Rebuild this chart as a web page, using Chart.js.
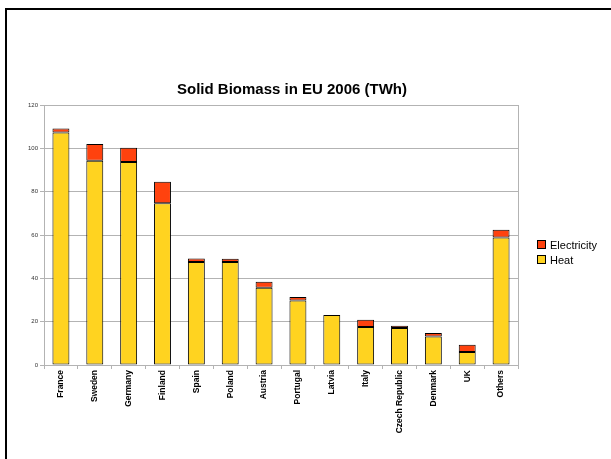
<!DOCTYPE html>
<html>
<head>
<meta charset="utf-8">
<script src="https://cdn.jsdelivr.net/npm/chart.js@4/dist/chart.umd.min.js"></script>
<style>
  body { margin: 0; background: #fff; }
  #wrap { position: relative; width: 611px; height: 459px; overflow: hidden; }
  #frame { position: absolute; left: 5px; top: 8px; width: 700px; height: 600px;
           border-left: 2px solid #000; border-top: 2px solid #000; pointer-events: none; }
</style>
</head>
<body>
<div id="wrap">
  <canvas id="graph" width="611" height="459"></canvas>
  <div id="frame"></div>
</div>
<script>
/* solid biomass use per country, TWh */

var countries = ["France", "Sweden", "Germany", "Finland", "Spain", "Poland", "Austria",
	"Portugal", "Latvia", "Italy", "Czech Republic", "Denmark", "UK", "Others"];

var heat = [107.3, 94.3, 93.7, 74.6, 47.5, 47.5, 35.7, 29.8, 23.1, 17.5, 17.1, 13.1, 6.0, 58.9];
var electricity = [1.9, 7.7, 6.6, 10.0, 1.7, 1.5, 2.7, 1.6, null, 3.4, 1.0, 1.7, 3.4, 3.5];

var yTicks = [0, 20, 40, 60, 80, 100, 120];

var chartTitle = "Solid Biomass in EU 2006 (TWh)";

var gridGrey = "#b3b3b3";

// title, legend and the right edge of the plot box
var extras = {
	id: "extras",
	beforeDatasetsDraw: function(chart) {
		var c = chart.ctx, a = chart.chartArea;
		c.save();
		c.strokeStyle = gridGrey;
		c.lineWidth = 1;
		c.beginPath();
		c.moveTo(Math.round(a.right) + 0.5, a.top);
		c.lineTo(Math.round(a.right) + 0.5, a.bottom);
		c.stroke();
		c.restore();
	},
	afterDraw: function(chart) {
		var c = chart.ctx;
		c.save();
		c.fillStyle = "#000";
		c.font = "bold 15px 'Liberation Sans', Arial, sans-serif";
		c.textAlign = "center";
		c.textBaseline = "alphabetic";
		c.fillText(chartTitle, 292, 94);

		c.font = "11px 'Liberation Sans', Arial, sans-serif";
		c.textAlign = "left";
		var sets = chart.data.datasets.slice().reverse();
		for (var i = 0; i < sets.length; i++) {
			var y = 240 + i * 15;
			c.fillStyle = sets[i].backgroundColor;
			c.fillRect(537, y, 9, 9);
			c.strokeStyle = "#000";
			c.lineWidth = 1;
			c.strokeRect(537.5, y + 0.5, 8, 8);
			c.fillStyle = "#000";
			c.fillText(sets[i].label, 550, y + 9);
		}
		c.restore();
	}
};

var ctx = document.getElementById("graph").getContext("2d");

var chart = new Chart(ctx, {
	type: "bar",
	data: {
		labels: countries,
		datasets: [{
			label: "Heat",
			data: heat,
			backgroundColor: "#ffd320",
			borderColor: "#000",
			borderWidth: 1,
			borderSkipped: false
		}, {
			label: "Electricity",
			data: electricity,
			backgroundColor: "#ff420e",
			borderColor: "#000",
			borderWidth: 1,
			borderSkipped: false
		}]
	},
	options: {
		responsive: false,
		animation: false,
		layout: { padding: { top: 105, right: 93, bottom: 0, left: 0 } },
		categoryPercentage: 1,
		barPercentage: 0.5,
		plugins: {
			legend: { display: false },
			title: { display: false },
			tooltip: { enabled: false }
		},
		scales: {
			x: {
				stacked: true,
				afterFit: function(s) { s.height = 94; },
				grid: { color: gridGrey, drawOnChartArea: false, tickLength: 4 },
				border: { color: gridGrey },
				ticks: {
					minRotation: 90, maxRotation: 90, padding: 1,
					color: "#000",
					font: { family: "'Liberation Sans', Arial, sans-serif", size: 8.5, weight: "bold" }
				}
			},
			y: {
				stacked: true,
				min: 0, max: 120,
				afterFit: function(s) { s.width = 44; },
				afterBuildTicks: function(s) {
					s.ticks = yTicks.map(function(v) { return { value: v }; });
				},
				grid: { color: gridGrey, tickLength: 4 },
				border: { color: gridGrey },
				ticks: {
					padding: 2,
					color: "#333",
					font: { family: "'Liberation Sans', Arial, sans-serif", size: 6 }
				}
			}
		}
	},
	plugins: [extras]
});
</script>
</body>
</html>
